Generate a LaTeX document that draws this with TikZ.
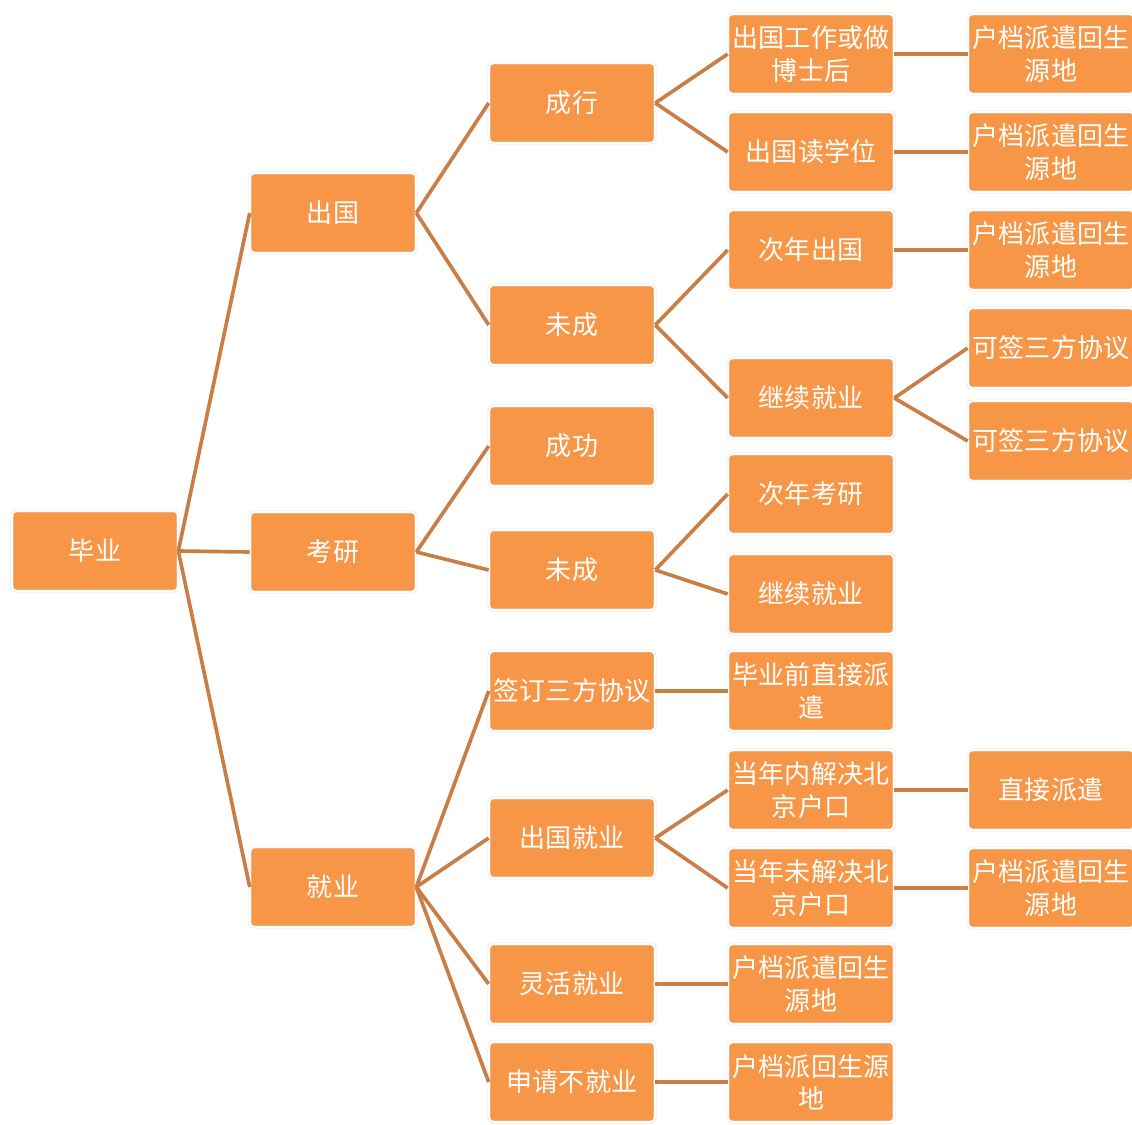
\documentclass[tikz,border=0pt]{standalone}
\usepackage{fontspec}
\setmainfont{Noto Sans CJK SC}
\usepackage{tikz}
\definecolor{boxorange}{HTML}{F79646}
\definecolor{linkbrown}{HTML}{C97E46}
\begin{document}
\begin{tikzpicture}[x=0.025cm, y=-0.025cm,
    box/.style={rectangle, rounded corners=3pt, fill=boxorange, draw=black!12,
        double=white, double distance=1.2pt, minimum width=4.15cm, minimum height=2cm,
        align=center, inner sep=0pt, text=white,
        font=\fontsize{18.5}{23}\selectfont},
    link/.style={draw=linkbrown, line width=2.6pt}]
    \useasboundingbox (0,0) rectangle (1132,1125);

    % root and first level
    \node[box] (root) at (95,551) {毕业};
    \node[box] (a1) at (333,213) {出国};
    \node[box] (a2) at (333,552) {考研};
    \node[box] (a3) at (333,887) {就业};

    % second level
    \node[box] (b1) at (572,103) {成行};
    \node[box] (b2) at (572,325) {未成};
    \node[box] (b3) at (572,446) {成功};
    \node[box] (b4) at (572,570) {未成};
    \node[box] (b5) at (572,691) {签订三方协议};
    \node[box] (b6) at (572,838) {出国就业};
    \node[box] (b7) at (572,984) {灵活就业};
    \node[box] (b8) at (572,1082) {申请不就业};

    % third level
    \node[box] (c1) at (811,54) {出国工作或做\\博士后};
    \node[box] (c2) at (811,152) {出国读学位};
    \node[box] (c3) at (811,250) {次年出国};
    \node[box] (c4) at (811,398) {继续就业};
    \node[box] (c5) at (811,494) {次年考研};
    \node[box] (c6) at (811,594) {继续就业};
    \node[box] (c7) at (811,691) {毕业前直接派\\遣};
    \node[box] (c8) at (811,790) {当年内解决北\\京户口};
    \node[box] (c9) at (811,888) {当年未解决北\\京户口};
    \node[box] (c10) at (811,984) {户档派遣回生\\源地};
    \node[box] (c11) at (811,1082) {户档派回生源\\地};

    % fourth level
    \node[box] (d1) at (1051,54) {户档派遣回生\\源地};
    \node[box] (d2) at (1051,152) {户档派遣回生\\源地};
    \node[box] (d3) at (1051,250) {户档派遣回生\\源地};
    \node[box] (d4) at (1051,348) {可签三方协议};
    \node[box] (d5) at (1051,441) {可签三方协议};
    \node[box] (d6) at (1051,790) {直接派遣};
    \node[box] (d7) at (1051,888) {户档派遣回生\\源地};

    \foreach \p/\c in {root/a1, root/a2, root/a3,
        a1/b1, a1/b2, a2/b3, a2/b4, a3/b5, a3/b6, a3/b7, a3/b8,
        b1/c1, b1/c2, b2/c3, b2/c4, b4/c5, b4/c6, b5/c7, b6/c8, b6/c9, b7/c10, b8/c11,
        c1/d1, c2/d2, c3/d3, c4/d4, c4/d5, c8/d6, c9/d7}
        \draw[link] (\p.east) -- (\c.west);
\end{tikzpicture}
\end{document}
